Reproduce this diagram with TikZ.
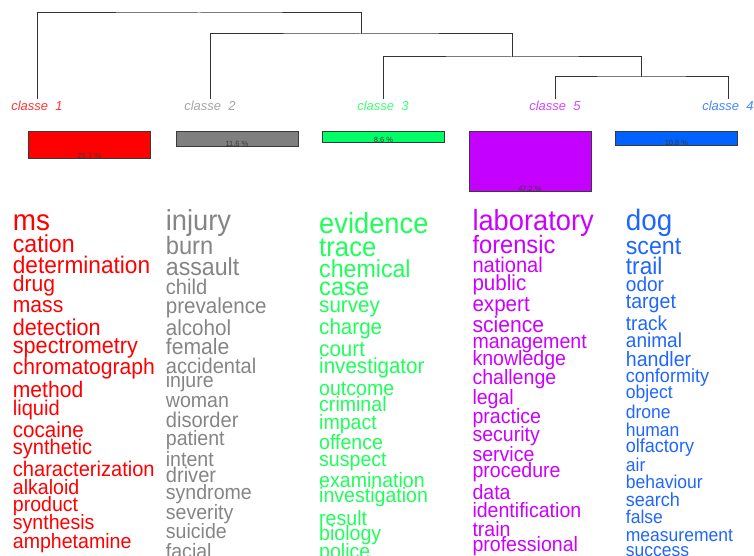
\documentclass[tikz,border=0pt]{standalone}
\usepackage{fontspec}
\setmainfont{Liberation Sans}
\usetikzlibrary{positioning}
\definecolor{wordred}{HTML}{FF0000}
\definecolor{wordgray}{HTML}{858585}
\definecolor{wordgreen}{HTML}{1EFF5A}
\definecolor{wordpurple}{HTML}{CC00FF}
\definecolor{wordblue}{HTML}{1F66FF}
\definecolor{labelred}{HTML}{FF3535}
\definecolor{labelgray}{HTML}{A5A5A5}
\definecolor{labelgreen}{HTML}{3CFF7A}
\definecolor{labelpurple}{HTML}{D545FF}
\definecolor{labelblue}{HTML}{4585FF}
\definecolor{boxred}{HTML}{FF0000}
\definecolor{boxgray}{HTML}{7F7F7F}
\definecolor{boxgreen}{HTML}{00FF66}
\definecolor{boxpurple}{HTML}{C400FF}
\definecolor{boxblue}{HTML}{0063FF}
\definecolor{boxline}{HTML}{3A3A3A}
\definecolor{dendroline}{HTML}{333333}
\newcommand{\tallword}[1]{\scalebox{1}[1.06]{#1}}
\tikzstyle{class_label}=[font=\fontsize{13}{13}\selectfont\itshape, anchor=base, inner sep=1.5pt]
\tikzstyle{class_box}=[rectangle, draw=boxline, line width=0.9pt, minimum width=122pt, anchor=north west, inner sep=0pt]
\tikzstyle{percent_label}=[font=\fontsize{7.5}{7.5}\selectfont, text=boxline, anchor=base, inner sep=0pt]
\tikzstyle{word_node}=[anchor=base west, inner sep=0pt]
\tikzstyle{dendro}=[draw=dendroline, line width=1pt]

\begin{document}
\begin{tikzpicture}[x=1pt,y=-1pt]

    \useasboundingbox (0,0) rectangle (754,556);
    \clip (0,0) rectangle (754,556);

    % Class labels
    \node[class_label,text=labelred] (classe1) at (37,110.5) {classe\ \ 1};
    \node[class_label,text=labelgray] (classe2) at (210,110.5) {classe\ \ 2};
    \node[class_label,text=labelgreen] (classe3) at (383,110.5) {classe\ \ 3};
    \node[class_label,text=labelpurple] (classe5) at (555,110.5) {classe\ \ 5};
    \node[class_label,text=labelblue] (classe4) at (728,110.5) {classe\ \ 4};

    % Dendrogram
    \coordinate (join45) at (641.5,77);
    \coordinate (join345) at (512,57);
    \coordinate (join2345) at (361,34);
    \coordinate (join_all) at (199,13);
    \draw[dendro] (classe5.north) |- (join45) -| (classe4.north);
    \draw[dendro] (classe3.north) |- (join345) -| (join45);
    \draw[dendro] (classe2.north) |- (join2345) -| (join345);
    \draw[dendro] (classe1.north) |- (join_all) -| (join2345);

    % Class sizes
    \node[class_box,fill=boxred,minimum height=27pt] (box1) at (28,131) {};
    \node[class_box,fill=boxgray,minimum height=15pt] (box2) at (175.5,131) {};
    \node[class_box,fill=boxgreen,minimum height=11pt] (box3) at (322,131) {};
    \node[class_box,fill=boxpurple,minimum height=60pt] (box5) at (468.5,131) {};
    \node[class_box,fill=boxblue,minimum height=14pt] (box4) at (615,131) {};
    \node[percent_label] (percent1) at (box1.south) {21.7 \%};
    \node[percent_label] (percent2) at (box2.south) {11.6 \%};
    \node[percent_label] (percent3) at (box3.south) {8.6 \%};
    \node[percent_label] (percent5) at (box5.south) {47.2 \%};
    \node[percent_label] (percent4) at (box4.south) {10.8 \%};

    % Words of classe 1
    \begin{scope}
        \clip (0,190) rectangle (154,556);
        \foreach \w/\y/\s in {ms/223.3/27, cation/246.7/22.5, determination/267/22, drug/285.7/20.5, mass/306.3/20.5, detection/329.7/21, spectrometry/347.8/21, chromatography/368.8/20.5, method/391.7/20.5, liquid/409.7/19.5, cocaine/432.2/20, synthetic/449.5/19.5, characterization/471.2/19.5, alkaloid/488.8/19, product/506.3/19, synthesis/524.7/19, amphetamine/543/19}{
            \pgfmathsetmacro\fs{\s*1.03}
            \node[word_node,text=wordred,font=\fontsize{\fs}{\fs}\selectfont] (red_\w) at (12.7,{\y+0.27*\fs}) {\tallword{\w}};
        }
    \end{scope}

    % Words of classe 2
    \foreach \w/\y/\s in {injury/222.8/26.5, burn/248.3/23, assault/268.8/22.5, child/289.2/19.5, prevalence/307.5/20, alcohol/330/20, female/348.3/20.5, accidental/368/19.5, injure/382.5/19, woman/402.5/19, disorder/422.5/19.5, patient/440.5/19, intent/460.8/19, driver/477.5/19.5, syndrome/494/19, severity/514/19, suicide/533.3/19, facial/553/19}{
        \pgfmathsetmacro\fs{\s*1.03}
        \node[word_node,text=wordgray,font=\fontsize{\fs}{\fs}\selectfont] (gray_\w) at (165.7,{\y+0.27*\fs}) {\tallword{\w}};
    }

    % Words of classe 3
    \foreach \w/\y/\s in {evidence/226.3/26.5, trace/249.7/25, chemical/271.2/22.5, case/288.8/23, survey/306.7/20, charge/328.8/20, court/350.8/20, investigator/367.5/20, outcome/390/19, criminal/406.7/19, impact/424/19, offence/444/19, suspect/461.5/19, examination/482/19, investigation/497.5/19, result/520/19, biology/535/19, police/553/19}{
        \pgfmathsetmacro\fs{\s*1.03}
        \node[word_node,text=wordgreen,font=\fontsize{\fs}{\fs}\selectfont] (green_\w) at (319,{\y+0.27*\fs}) {\tallword{\w}};
    }

    % Words of classe 5
    \foreach \w/\y/\s in {laboratory/223.3/26.5, forensic/247/23, national/267.5/19.5, public/284.5/20, expert/305.5/20, science/326.7/20.5, management/343.3/19, knowledge/360/19, challenge/379/19, legal/399/19, practice/418.3/19, security/436.7/19, service/456.7/19, procedure/472.5/19, data/494/19, identification/512.5/19, train/530.8/19, professional/546.3/19}{
        \pgfmathsetmacro\fs{\s*1.03}
        \node[word_node,text=wordpurple,font=\fontsize{\fs}{\fs}\selectfont] (purple_\w) at (472.3,{\y+0.27*\fs}) {\tallword{\w}};
    }

    % Words of classe 4
    \foreach \w/\y/\s in {dog/223.3/27, scent/248.3/22.5, trail/268.8/22, odor/286.7/18.5, target/303.3/19, track/325/18.5, animal/342.5/18.5, handler/360.8/19, conformity/377.5/17.5, object/394/17, drone/414/17, human/431.7/17, olfactory/447.5/17.5, air/467/17, behaviour/484/17, search/501.7/17.5, false/519/17, measurement/536.8/17, success/552/17}{
        \pgfmathsetmacro\fs{\s*1.03}
        \node[word_node,text=wordblue,font=\fontsize{\fs}{\fs}\selectfont] (blue_\w) at (625.7,{\y+0.27*\fs}) {\tallword{\w}};
    }

\end{tikzpicture}
\end{document}
